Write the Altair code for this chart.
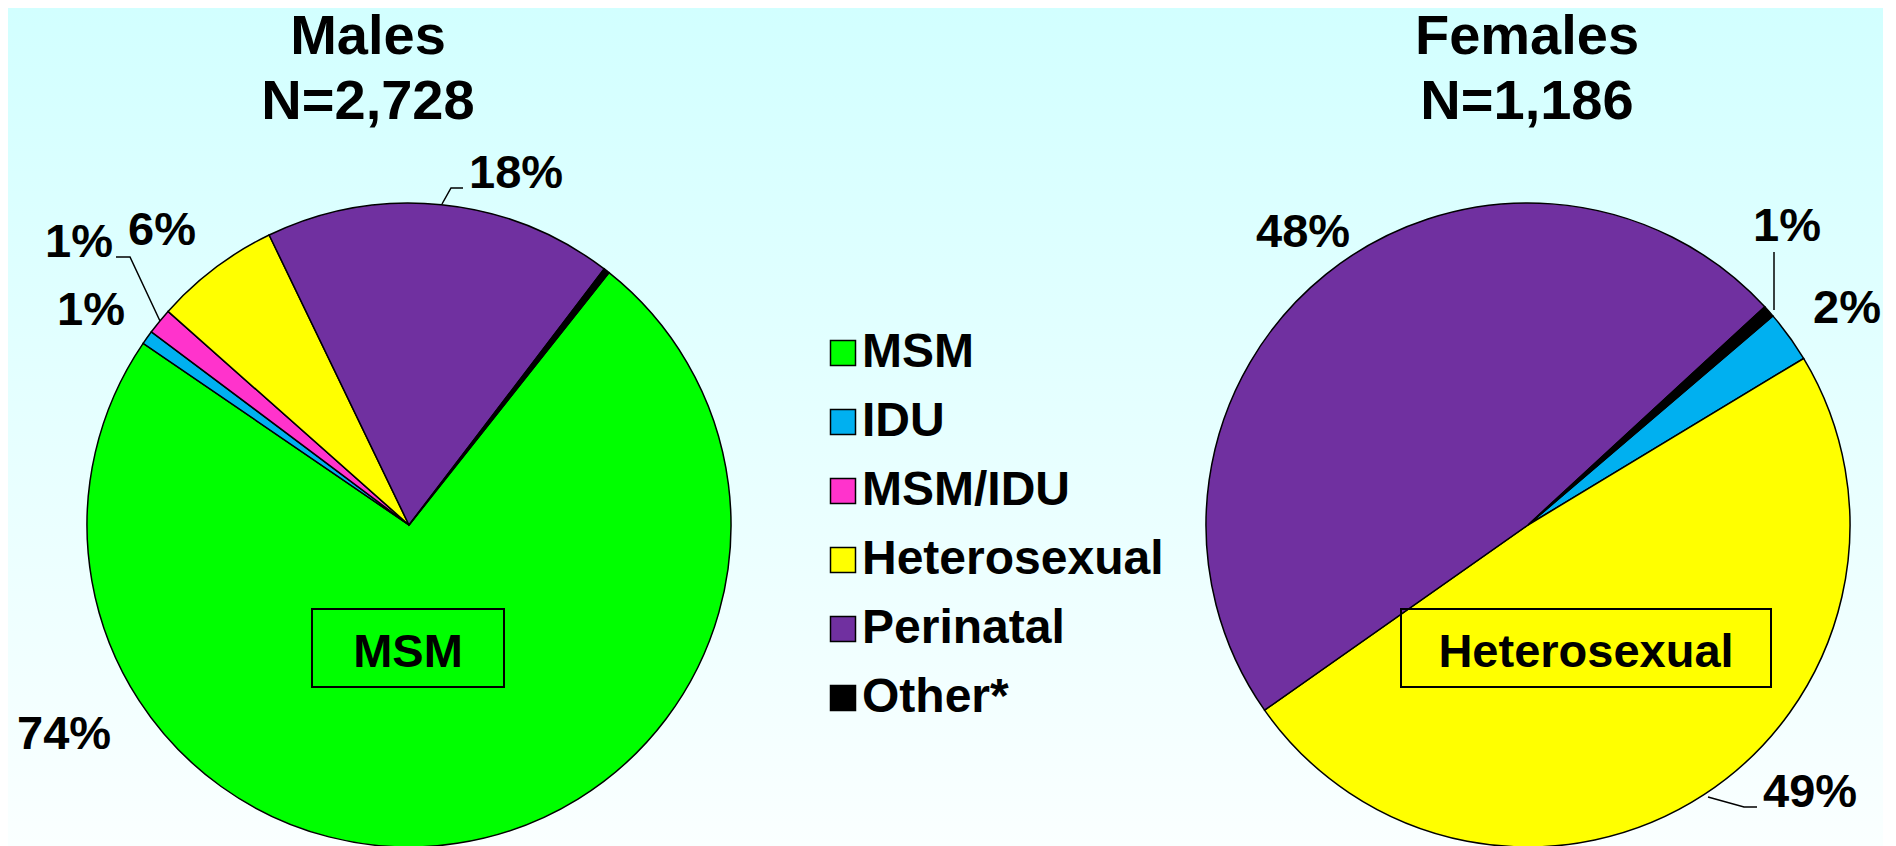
import math
import altair as alt
import pandas as pd

# ---------------- data ----------------
categories = ["MSM", "IDU", "MSM/IDU", "Heterosexual", "Perinatal", "Other*"]
colors = ["#00FF00", "#00B0F0", "#FF33CC", "#FFFF00", "#7030A0", "#000000"]

male_categories = ["MSM", "IDU", "MSM/IDU", "Heterosexual", "Perinatal", "Other*"]
male_values = [73.8, 0.7, 1.3, 6.3, 17.5, 0.3]

female_categories = ["IDU", "Heterosexual", "Perinatal", "Other*"]
female_values = [2.6, 48.9, 47.9, 0.6]

titles = ["Males", "N=2,728", "Females", "N=1,186"]
pct_labels = ["74%", "1%", "1%", "6%", "18%", "48%", "1%", "2%", "49%"]
box_labels = ["MSM", "Heterosexual"]

# ---------------- layout (pixels) ----------------
W, H = 1875, 838
FONT = "Liberation Sans"
R = 322
male_center = (401, 517)
female_center = (1520, 517)
male_start_deg = 38.4
female_start_deg = 49.5

title_pos = [(360, 46), (360, 111), (1519, 46), (1519, 111)]
pct_pos = [(9, 741), (49, 317), (37, 249), (120, 237), (461, 180),
           (1248, 239), (1745, 233), (1805, 315), (1755, 799)]
box_text_pos = [(400, 659), (1578, 659)]
box_rects = [(304, 601, 496, 679), (1393, 601, 1763, 679)]
leaders = [
    [(108, 249), (122, 249), (152, 313)],
    [(455, 180), (443, 180), (434, 196)],
    [(1766, 244), (1766, 302)],
    [(1749, 799), (1736, 799), (1700, 789)],
]

# ---------------- tables ----------------
male_df = pd.DataFrame({
    "category": male_categories,
    "value": male_values,
    "order": [categories.index(c) for c in male_categories],
})
female_df = pd.DataFrame({
    "category": female_categories,
    "value": female_values,
    "order": [categories.index(c) for c in female_categories],
})
title_df = pd.DataFrame({"text": titles, "px": [p[0] for p in title_pos], "py": [p[1] for p in title_pos]})
pct_df = pd.DataFrame({"text": pct_labels, "px": [p[0] for p in pct_pos], "py": [p[1] for p in pct_pos]})
boxtext_df = pd.DataFrame({"text": box_labels, "px": [p[0] for p in box_text_pos], "py": [p[1] for p in box_text_pos]})
rect_df = pd.DataFrame({
    "x1": [b[0] for b in box_rects], "y1": [b[1] for b in box_rects],
    "x2": [b[2] for b in box_rects], "y2": [b[3] for b in box_rects],
})
rows = []
for s, seg in enumerate(leaders):
    for i, (px, py) in enumerate(seg):
        rows.append({"seg": s, "i": i, "px": px, "py": py})
leader_df = pd.DataFrame(rows)

# ---------------- marks ----------------
background = alt.Chart(pd.DataFrame({"a": [0]})).mark_rect(
    fill=alt.Gradient(
        gradient="linear",
        stops=[alt.GradientStop(color="#D2FFFF", offset=0),
               alt.GradientStop(color="#FAFFFF", offset=1)],
        x1=0, x2=0, y1=0, y2=1,
    )
).encode(x=alt.value(0), x2=alt.value(W), y=alt.value(0), y2=alt.value(H))

legend = alt.Legend(
    title=None, orient="none", legendX=811, legendY=321,
    symbolType="square", symbolSize=625, symbolStrokeColor="black",
    symbolStrokeWidth=1.5, symbolOpacity=1,
    labelFont=FONT, labelFontSize=48, labelFontWeight="bold", labelColor="black",
    labelOffset={"expr": "-5"}, labelLimit=500, rowPadding=21, padding=0, direction="vertical",
)
color = alt.Color("category:N", scale=alt.Scale(domain=categories, range=colors), legend=legend)


def pie(df, center, start_deg):
    a0 = math.radians(start_deg)
    return alt.Chart(df).mark_arc(outerRadius=R, stroke="black", strokeWidth=1.5).encode(
        theta=alt.Theta("value:Q", stack=True, scale=alt.Scale(range=[a0, a0 + 2 * math.pi])),
        color=color,
        order=alt.Order("order:Q"),
        x=alt.value(center[0]),
        y=alt.value(center[1]),
    )


male_pie = pie(male_df, male_center, male_start_deg)
female_pie = pie(female_df, female_center, female_start_deg)

boxes = alt.Chart(rect_df).mark_rect(fill="transparent", stroke="black", strokeWidth=2).encode(
    x=alt.X("x1:Q", scale=None, axis=None), x2="x2:Q",
    y=alt.Y("y1:Q", scale=None, axis=None), y2="y2:Q",
)

title_text = alt.Chart(title_df).mark_text(
    font=FONT, fontSize=56, fontWeight="bold", align="center", baseline="alphabetic", color="black"
).encode(x=alt.X("px:Q", scale=None, axis=None), y=alt.Y("py:Q", scale=None, axis=None), text="text:N")

pct_text = alt.Chart(pct_df).mark_text(
    font=FONT, fontSize=47, fontWeight="bold", align="left", baseline="alphabetic", color="black"
).encode(x=alt.X("px:Q", scale=None, axis=None), y=alt.Y("py:Q", scale=None, axis=None), text="text:N")

box_text = alt.Chart(boxtext_df).mark_text(
    font=FONT, fontSize=47, fontWeight="bold", align="center", baseline="alphabetic", color="black"
).encode(x=alt.X("px:Q", scale=None, axis=None), y=alt.Y("py:Q", scale=None, axis=None), text="text:N")

leader_lines = alt.Chart(leader_df).mark_line(color="black", strokeWidth=1.5).encode(
    x=alt.X("px:Q", scale=None, axis=None), y=alt.Y("py:Q", scale=None, axis=None),
    detail="seg:N", order="i:Q",
)

chart = alt.layer(
    background, male_pie, female_pie, boxes, title_text, pct_text, box_text, leader_lines
).resolve_scale(theta="independent").properties(
    width=W, height=H, autosize=alt.AutoSizeParams(type="none"), padding=0, background="white"
).configure_view(stroke=None)

chart.save("out.html", embed_options={"renderer": "svg", "actions": False})
